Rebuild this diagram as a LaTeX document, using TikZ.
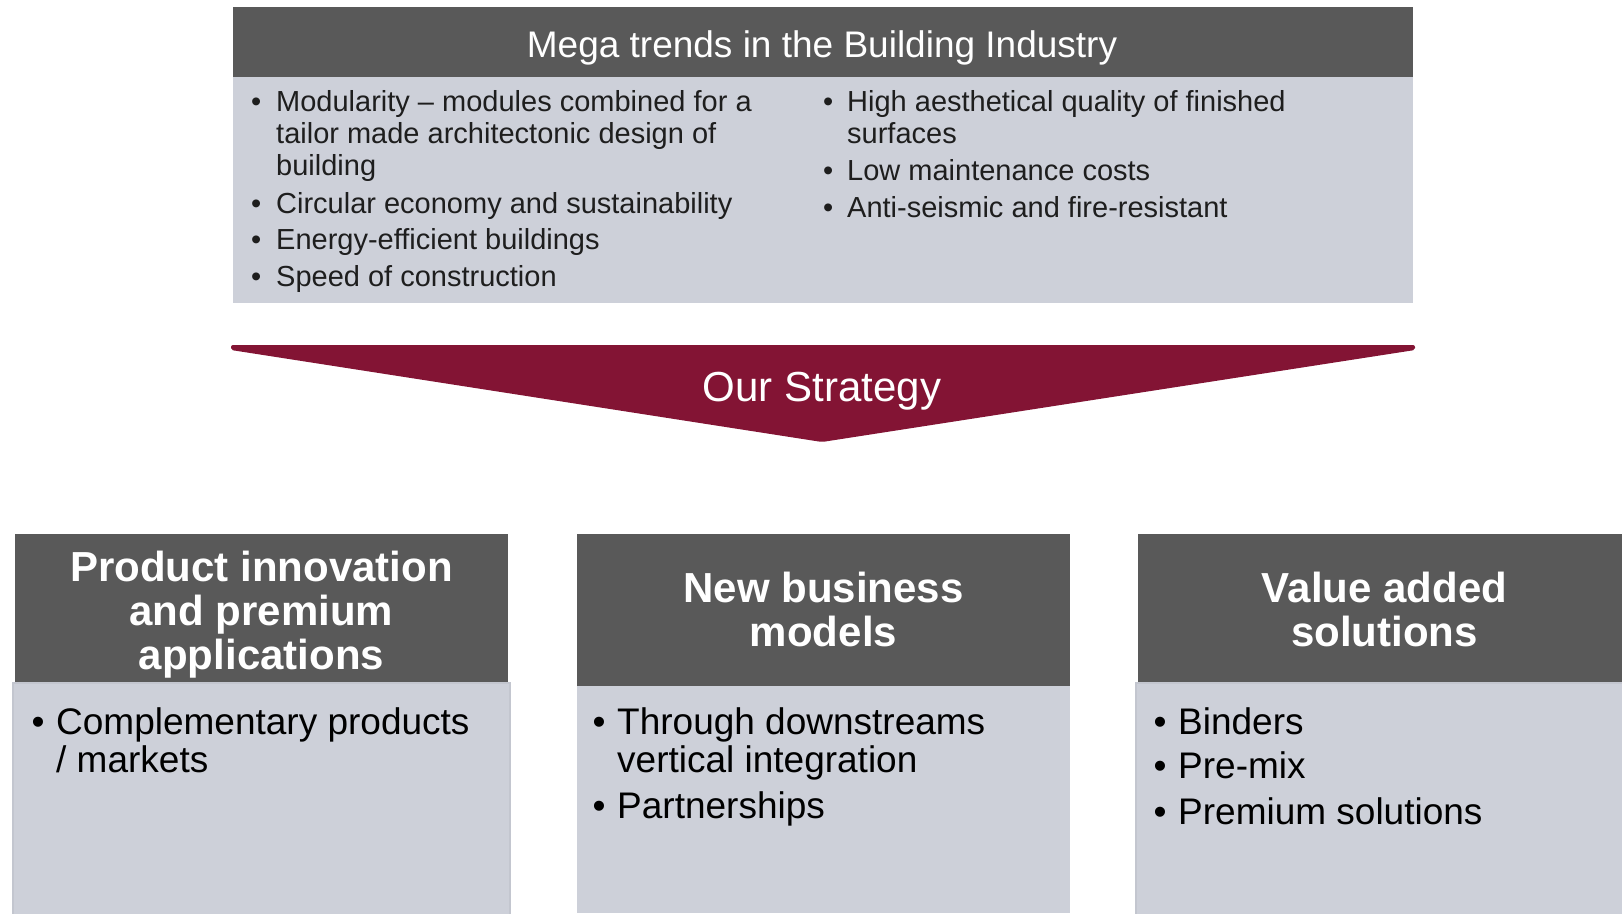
\documentclass[tikz,border=0pt]{standalone}
\usepackage{fontspec}
\setmainfont{Liberation Sans}
\definecolor{headgray}{HTML}{595959}
\definecolor{bodygray}{HTML}{CDD0D9}
\definecolor{edgegray}{HTML}{C3C6CF}
\definecolor{strategyred}{HTML}{831434}
\definecolor{inkgray}{HTML}{1E1E1E}
\tikzset{
  trendtext/.style={anchor=base west, inner sep=0pt, text=inkgray, font=\fontsize{29}{32}\selectfont},
  trendhead/.style={anchor=base, inner sep=0pt, text=white, font=\fontsize{37}{40}\selectfont},
  strategytext/.style={anchor=base, inner sep=0pt, text=white, font=\fontsize{42}{46}\selectfont},
  pillarhead/.style={anchor=base, inner sep=0pt, text=white, font=\fontsize{42}{44}\bfseries\selectfont},
  pillartext/.style={anchor=base west, inner sep=0pt, text=black, font=\fontsize{37}{38}\selectfont},
}
\newcommand{\bulletline}[3]{\makebox[#1][l]{\textbullet}\parbox[t]{#2}{\raggedright #3}}
\newcommand{\headlines}[1]{\parbox[t]{480pt}{\centering #1}}
\begin{document}
\begin{tikzpicture}[x=1pt, y=-1pt]
                \useasboundingbox (0,0) rectangle (1622,913);

                % Drawing box of mega trends
                \fill [headgray] (233,7) rectangle (1413,77);%
                \fill [bodygray] (233,77) rectangle (1413,303);%
                \node [trendhead] (megahead) at (822,57.5) {Mega trends in the Building Industry};%

                % Writing trends, left column
                \node [trendtext] (modularity) at (251,111) {\bulletline{25pt}{520pt}{Modularity -- modules combined for a\\tailor made architectonic design of\\building}};%
                \node [trendtext] (circular) at (251,213) {\bulletline{25pt}{520pt}{Circular economy and sustainability}};%
                \node [trendtext] (energy) at (251,249) {\bulletline{25pt}{520pt}{Energy-efficient buildings}};%
                \node [trendtext] (speed) at (251,286) {\bulletline{25pt}{520pt}{Speed of construction}};%

                % Writing trends, right column
                \node [trendtext] (aesthetic) at (823,111) {\bulletline{24pt}{520pt}{High aesthetical quality of finished\\surfaces}};%
                \node [trendtext] (maintenance) at (823,180) {\bulletline{24pt}{520pt}{Low maintenance costs}};%
                \node [trendtext] (seismic) at (823,217) {\bulletline{24pt}{520pt}{Anti-seismic and fire-resistant}};%

                % Drawing strategy arrow
                \fill [strategyred, rounded corners=2pt] (231,345) -- (1415,345) -- (1415,350) -- (822,442) -- (231,350) -- cycle;%
                \node [strategytext] (strategy) at (822,401) {Our Strategy};%

                % Drawing pillar: product innovation
                \fill [headgray] (15,534) rectangle (508,683);%
                \fill [bodygray, draw=edgegray, line width=1.2pt] (13,683) rectangle (510,915);%
                \node [pillarhead] (innovation) at (261.5,581) {\headlines{Product innovation\\and premium\\applications}};%
                \node [pillartext] (complementary) at (31.5,734) {\bulletline{24.5pt}{450pt}{Complementary products\\/ markets}};%

                % Drawing pillar: new business models
                \fill [headgray] (577,534) rectangle (1070,686);%
                \fill [bodygray] (577,686) rectangle (1070,913);%
                \node [pillarhead] (business) at (823.5,602.5) {\headlines{New business\\models}};%
                \node [pillartext] (downstream) at (592.5,734) {\bulletline{24.5pt}{450pt}{Through downstreams\\vertical integration}};%
                \node [pillartext] (partnership) at (592.5,818) {\bulletline{24.5pt}{450pt}{Partnerships}};%

                % Drawing pillar: value added solutions
                \fill [headgray] (1138,534) rectangle (1622,683);%
                \fill [bodygray, draw=edgegray, line width=1.2pt] (1136,683) rectangle (1625,915);%
                \node [pillarhead] (solutions) at (1384.5,602.5) {\headlines{Value added\\solutions}};%
                \node [pillartext] (binders) at (1153.5,734) {\bulletline{24.5pt}{450pt}{Binders}};%
                \node [pillartext] (premix) at (1153.5,778) {\bulletline{24.5pt}{450pt}{Pre-mix}};%
                \node [pillartext] (premium) at (1153.5,824) {\bulletline{24.5pt}{450pt}{Premium solutions}};%
\end{tikzpicture}
\end{document}
